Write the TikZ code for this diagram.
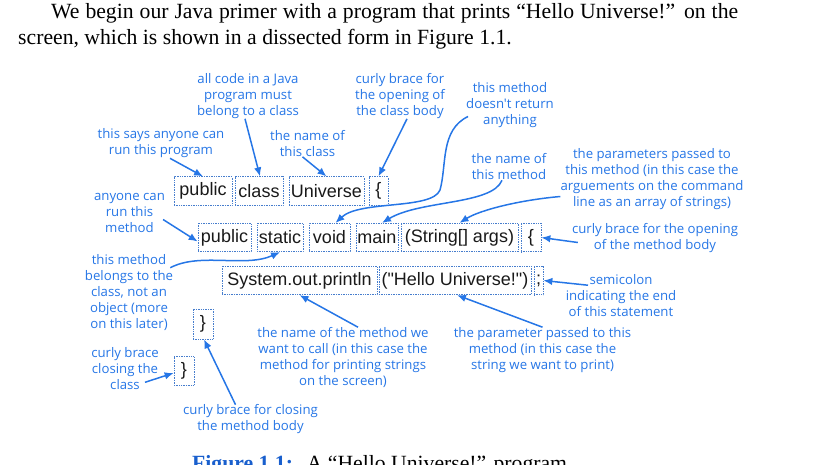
\documentclass[tikz,border=0pt]{standalone}
\usepackage{fontspec}
\setmainfont{Liberation Serif}
\newfontfamily\notefont{Open Sans}
\newfontfamily\codefont{Liberation Sans}
\usepackage{tikz}
\usetikzlibrary{arrows.meta}
\definecolor{noteblue}{RGB}{38,118,230}
\definecolor{boxblue}{RGB}{70,125,205}
\definecolor{capblue}{RGB}{25,95,205}
\definecolor{codeink}{RGB}{25,25,25}

\begin{document}
\begin{tikzpicture}[x=1pt,y=-1pt,
      codebox/.style={draw=boxblue,densely dotted,line width=0.7pt,inner sep=0pt,
                      minimum width=#1,minimum height=28.5pt,text=codeink,
                      font=\codefont\fontsize{18}{20}\selectfont},
      note/.style={text=noteblue,align=center,inner sep=0pt,
                   font=\notefont\fontsize{13.2}{16}\selectfont},
      pointer/.style={draw=noteblue,line width=1.5pt,-{Latex[length=9pt,width=7.5pt]}},
      body/.style={anchor=base west,inner sep=0pt,font=\fontsize{21.7}{26}\selectfont}]
    \useasboundingbox (0,0) rectangle (836,464);
    \clip (0,0) rectangle (836,464);

    % running text round the figure
    \node[body] (line1) at (51,18.3)
      {\makebox[687pt][s]{We begin our Java primer with a program that prints “Hello Universe!” on the}};
    \node[body] (line2) at (18,44) {screen, which is shown in a dissected form in Figure 1.1.};
    \node[body] (caption) at (192,470)
      {\textcolor{capblue}{\bfseries Figure 1.1:}\hspace{0.3em} A “Hello Universe!” program};

    % the program, one box per token
    \node[codebox=58pt] (pub1) at (203,191) {public};
    \node[codebox=48pt] (cls) at (259,191) {class};
    \node[codebox=75pt] (univ) at (326.5,191) {Universe};
    \node[codebox=19pt] (lbr1) at (378.5,191) {\{};
    \node[codebox=53pt] (pub2) at (224.5,237.5) {public};
    \node[codebox=46pt] (stat) at (280,237.5) {static};
    \node[codebox=41pt] (void) at (329.5,237.5) {void};
    \node[codebox=42pt] (main) at (377,237.5) {main};
    \node[codebox=117pt] (args) at (459.5,237.5) {(String[] args)};
    \node[codebox=20pt] (lbr2) at (531,237.5) {\{};
    \node[codebox=155pt] (prt) at (299.5,280.5) {System.out.println};
    \node[codebox=152pt] (hello) at (455,280.5) {("Hello Universe!")};
    \node[codebox=9pt] (semi) at (538.5,280.5) {;};
    \node[codebox=20pt,minimum height=30pt] (rbr1) at (203,324) {\}};
    \node[codebox=20pt] (rbr2) at (184,371) {\}};

    % notes
    \node[note] (a1) at (248,96) {all code in a Java\\program must\\belong to a class};
    \node[note] (a2) at (400,96) {curly brace for\\the opening of\\the class body};
    \node[note] (a3) at (161,143.5) {this says anyone can\\run this program};
    \node[note] (a4) at (307.5,143.5) {the name of\\this class};
    \node[note] (a5) at (510,105.5) {this method\\doesn't return\\anything};
    \node[note] (a6) at (509,167) {the name of\\this method};
    \node[note] (a7) at (652,179.5) {the parameters passed to\\this method (in this case the\\arguements on the command\\line as an array of strings)};
    \node[note] (a8) at (655,238.5) {curly brace for the opening\\of the method body};
    \node[note] (a9) at (621,295.5) {semicolon\\indicating the end\\of this statement};
    \node[note] (a10) at (542.5,350) {the parameter passed to this\\method (in this case the\\string we want to print)};
    \node[note] (a11) at (343,357.5) {the name of the method we\\want to call (in this case the\\method for printing strings\\on the screen)};
    \node[note] (a12) at (129.5,212.5) {anyone can\\run this\\method};
    \node[note] (a13) at (129,293) {this method\\belongs to the\\class, not an\\object (more\\on this later)};
    \node[note] (a14) at (125,369) {curly brace\\closing the\\class};
    \node[note] (a15) at (250.5,419.5) {curly brace for closing\\the method body};

    % arrows from the notes to the tokens
    \draw[pointer] ([xshift=-3pt]a1.south) -- ([xshift=1pt]cls.north);
    \draw[pointer] ([xshift=7pt]a2.south) -- (lbr1.north);
    \draw[pointer] ([xshift=9pt]a3.south) -- (pub1.north);
    \draw[pointer] ([xshift=-5pt]a4.south) -- (univ.north);
    \draw[pointer] ([xshift=2pt,yshift=-11pt]a5.west) .. controls (440,130) and (447,165) .. (440,190)
                   .. controls (432,210) and (360,200) .. ([xshift=6pt]void.north);
    \draw[pointer] ([xshift=-7pt]a6.south) .. controls (492,205) and (420,200) .. ([xshift=5pt]main.north);
    \draw[pointer] ([yshift=-17pt]a7.west) .. controls (520,200) and (480,210) .. (args.north);
    \draw[pointer] ([xshift=6pt,yshift=-4pt]a8.west) -- (lbr2.east);
    \draw[pointer] ([xshift=-33pt,yshift=-11pt]a9.north) -- (semi.east);
    \draw[pointer] (a10.north) -- ([xshift=2pt]hello.south);
    \draw[pointer] ([xshift=15pt]a11.north) -- (prt.south);
    \draw[pointer] ([xshift=-2pt,yshift=-7pt]a12.east) -- ([yshift=-4pt]pub2.west);
    \draw[pointer] ([xshift=-3pt,yshift=-13pt]a13.north east) .. controls (200,252) and (245,268) .. (stat.south);
    \draw[pointer] ([xshift=20pt,yshift=8pt]a14.south) -- ([yshift=-2pt]rbr2.west);
    \draw[pointer] ([xshift=-15pt]a15.north) -- ([xshift=1pt]rbr1.south);
  \end{tikzpicture}
\end{document}
